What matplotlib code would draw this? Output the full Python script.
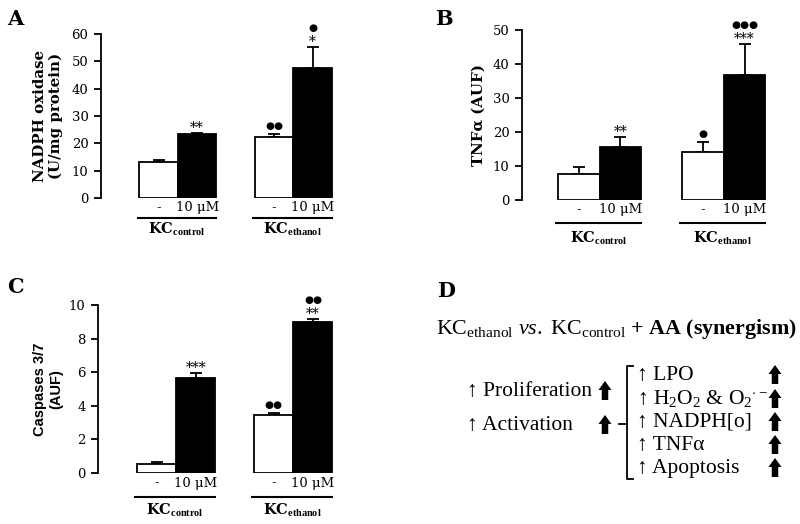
import matplotlib
matplotlib.use("Agg")
import matplotlib.pyplot as plt
from matplotlib.transforms import offset_copy
from matplotlib.patches import FancyArrow

plt.rcParams['font.family'] = ['DejaVu Serif', 'DejaVu Sans']
plt.rcParams['mathtext.fontset'] = 'custom'
plt.rcParams['mathtext.rm'] = 'Liberation Serif'
plt.rcParams['mathtext.it'] = 'Liberation Serif:italic'
plt.rcParams['mathtext.bf'] = 'Liberation Serif:bold'

# ---------------- data ----------------
treatments = ["-", "10 \u03bcM"]
groups = ["KC$_{\\mathbf{control}}$", "KC$_{\\mathbf{ethanol}}$"]

nadph_mean = [13.0, 23.4, 22.3, 47.5]
nadph_err = [0.9, 0.4, 1.2, 7.6]
nadph_sig = [None, "**", None, "*"]
nadph_dot = [None, None, "\u25cf\u25cf", "\u25cf"]

tnf_mean = [7.6, 15.7, 14.2, 36.8]
tnf_err = [2.2, 2.7, 2.9, 9.0]
tnf_sig = [None, "**", None, "***"]
tnf_dot = [None, None, "\u25cf", "\u25cf\u25cf\u25cf"]

casp_mean = [0.55, 5.65, 3.47, 8.97]
casp_err = [0.13, 0.3, 0.12, 0.18]
casp_sig = [None, "***", None, "**"]
casp_dot = [None, None, "\u25cf\u25cf", "\u25cf\u25cf"]

panel_d_title = r"KC$_{\mathrm{ethanol}}$ $\mathit{vs.}$ KC$_{\mathrm{control}}$ $\mathbf{+\ AA\ (synergism)}$"
panel_d_left = ["\u2191 Proliferation", "\u2191 Activation"]
panel_d_right = ["\u2191 LPO", "\u2191 H$_2$O$_2$ & O$_2$$^{\\cdot -}$", "\u2191 NADPH[o]",
                 "\u2191 TNF\u03b1", "\u2191 Apoptosis"]

positions = [0, 1, 3, 4]
colors = ["white", "black", "white", "black"]

W, H = 800, 524
fig = plt.figure(figsize=(W / 100, H / 100), dpi=100)

ov = fig.add_axes([0, 0, 1, 1])
ov.set_xlim(0, W)
ov.set_ylim(H, 0)
ov.axis('off')


def px_axes(left, right, top, bottom):
    return fig.add_axes([left / W, 1 - bottom / H, (right - left) / W, (bottom - top) / H])


def PT(px):
    return px * 0.72


def bar_panel(ax, means, errs, sig, dot, ymax, ystep, xlim, ylabel, ylab_x, ylab_kw,
              offs):
    ax.bar(positions, means, width=1.0, color=colors, edgecolor='black', linewidth=1.3, zorder=2)
    ax.errorbar(positions, means, yerr=[[0] * 4, errs], fmt='none', ecolor='black',
                elinewidth=1.3, capsize=4, capthick=1.3, zorder=1)
    ax.set_xlim(*xlim)
    ax.set_ylim(0, ymax)
    ax.set_yticks(range(0, ymax + 1, ystep))
    for s in ['top', 'right', 'bottom']:
        ax.spines[s].set_visible(False)
    ax.spines['left'].set_linewidth(1.3)
    ax.set_xticks([])
    ax.tick_params(axis='y', direction='out', length=5, width=1.3, labelsize=9.5, pad=4)
    ax.set_ylabel(ylabel, **ylab_kw)
    ax.yaxis.set_label_coords(ylab_x, 0.5)
    for x, m, e, s, d in zip(positions, means, errs, sig, dot):
        top = m + e
        first = 9
        if s is not None:
            ax.annotate(s, xy=(x, top), xytext=(0, PT(first - 8)), textcoords='offset points',
                        ha='center', va='baseline', fontsize=10, annotation_clip=False)
            if d is not None:
                ax.annotate(d, xy=(x, top), xytext=(0, PT(first + 11 - 4)), textcoords='offset points',
                            ha='center', va='baseline', fontsize=7.5, family='DejaVu Sans',
                            annotation_clip=False)
        elif d is not None:
            ax.annotate(d, xy=(x, top), xytext=(0, PT(first - 4)), textcoords='offset points',
                        ha='center', va='baseline', fontsize=7.5, family='DejaVu Sans',
                        annotation_clip=False)
    for x, i in zip(positions, [0, 1, 0, 1]):
        ax.annotate(treatments[i], xy=(x, 0), xytext=(0, -PT(offs[0])), textcoords='offset points',
                    ha='center', va='center', fontsize=9.5, annotation_clip=False)
    line_tr = offset_copy(ax.transData, fig=fig, y=-PT(offs[1]), units='points')
    for gi, g in enumerate(groups):
        x0 = positions[2 * gi] - 0.55
        x1 = positions[2 * gi + 1] + 0.5
        ax.plot([x0, x1], [0, 0], color='black', lw=1.5, transform=line_tr, clip_on=False)
        ax.annotate(g, xy=((x0 + x1) / 2, 0), xytext=(0, -PT(offs[2])), textcoords='offset points',
                    ha='center', va='center', fontsize=10.5, fontweight='bold',
                    annotation_clip=False)


serif_bold = dict(fontsize=10.8, fontweight='bold', family='DejaVu Serif', linespacing=1.15)
sans_bold = dict(fontsize=10.5, fontweight='bold', family='Liberation Sans', linespacing=1.2)

axA = px_axes(101, 351, 34, 198)
bar_panel(axA, nadph_mean, nadph_err, nadph_sig, nadph_dot, 60, 10, (-1.5, 5.0),
          "NADPH oxidase\n(U/mg protein)", -0.152, serif_bold, (10, 20, 31))

axB = px_axes(522, 786, 30, 200)
bar_panel(axB, tnf_mean, tnf_err, tnf_sig, tnf_dot, 50, 10, (-1.37, 5.0),
          "TNF\u03b1 (AUF)", -0.136, serif_bold, (10, 23, 38))

axC = px_axes(98, 352, 305, 473)
bar_panel(axC, casp_mean, casp_err, casp_sig, casp_dot, 10, 2, (-1.5, 5.0),
          "Caspases 3/7\n(AUF)", -0.138, sans_bold, (10, 24, 37))

for lab, x, y in [("A", 7, 19), ("B", 435, 19), ("C", 7, 287), ("D", 437, 291)]:
    ov.text(x, y, lab, fontsize=15, fontweight='bold', family='DejaVu Serif',
            va='center', ha='left')

dfont = ['Liberation Serif', 'DejaVu Serif']
ov.text(436, 334, panel_d_title, fontsize=15.8, family=dfont, va='baseline', ha='left')


def big_arrow(xc, yb):
    ov.add_patch(FancyArrow(xc, yb + 4, 0, -19, width=6.5, head_width=13, head_length=9,
                            length_includes_head=True, color='black', lw=0))


left_base = [396, 430]
for s, yb in zip(panel_d_left, left_base):
    ov.text(467, yb, s, fontsize=15.5, family=dfont, va='baseline', ha='left')
    big_arrow(605, yb)

right_base = [380, 404, 427, 450, 473]
for s, yb in zip(panel_d_right, right_base):
    ov.text(637, yb, s, fontsize=15.5, family=dfont, va='baseline', ha='left')
    big_arrow(775, yb)

ov.plot([633, 627, 627, 633], [366, 366, 479, 479], color='black', lw=1.3)
ov.plot([619, 627], [424, 424], color='black', lw=1.3)

fig.savefig("out.png", dpi=100)
